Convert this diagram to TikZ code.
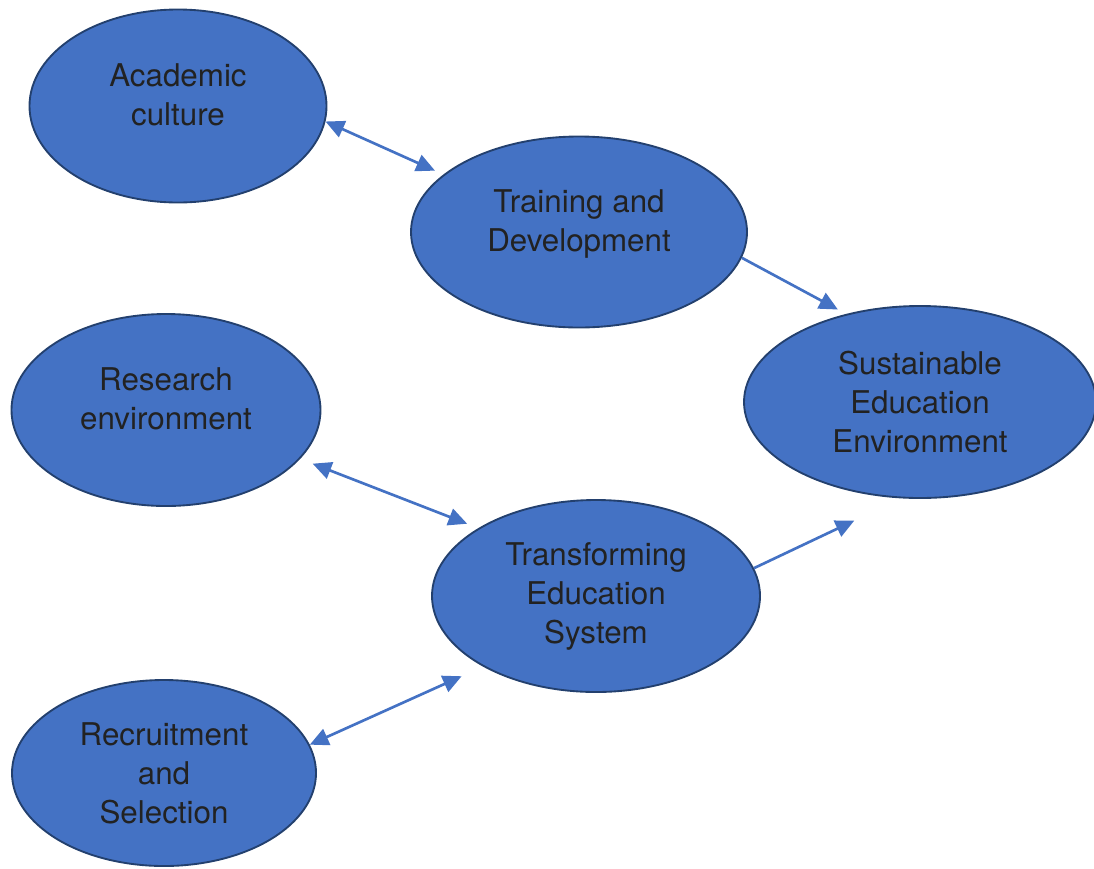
\documentclass[tikz,border=0pt]{standalone}
\usepackage{fontspec}
\setmainfont{TeX Gyre Heros}
\usetikzlibrary{arrows.meta,shapes.geometric}
\definecolor{boxblue}{HTML}{4472C4}
\definecolor{edgeblue}{HTML}{23406E}
\definecolor{inktext}{HTML}{222222}

\begin{document}
\begin{tikzpicture}[x=0.75pt,y=-0.75pt,
    blob/.style={ellipse,draw=edgeblue,line width=1.4pt,fill=boxblue,inner sep=0pt,
      text=inktext,align=center,font=\fontsize{23.5}{29.25}\selectfont},
    lift/.style={text depth=17pt},
    link/.style={draw=boxblue,line width=2pt,-{Triangle[length=14pt,width=13pt]}},
    both/.style={link,{Triangle[length=14pt,width=13pt]}-{Triangle[length=14pt,width=13pt]}}]
  \useasboundingbox (0,0) rectangle (1094,868);

  \node[blob,lift,minimum width=222.75pt,minimum height=144.75pt] (ac) at (178,106) {Academic\\culture};
  \node[blob,lift,minimum width=252pt,minimum height=143.25pt] (td) at (579,232) {Training and\\Development};
  \node[blob,minimum width=264pt,minimum height=144pt] (se) at (920,402) {Sustainable\\Education\\Environment};
  \node[blob,lift,minimum width=231.75pt,minimum height=144pt] (re) at (166,410) {Research\\environment};
  \node[blob,minimum width=246pt,minimum height=144pt] (tes) at (596,596) {Transforming\\Education\\System};
  \node[blob,minimum width=228pt,minimum height=139.5pt] (rs) at (164,773) {Recruitment\\and\\Selection};

  \draw[both,shorten >=7pt] (ac.-6) -- (td.157);
  \draw[link,shorten >=7pt] (td.-9) -- (se.130);
  \draw[both,shorten <=10pt,shorten >=9pt] (re.-20) -- (tes.150);
  \draw[link,shorten >=39pt] (tes.10) -- (se.259);
  \draw[both,shorten >=17.6pt] (rs.11) -- (tes.212);
\end{tikzpicture}
\end{document}
